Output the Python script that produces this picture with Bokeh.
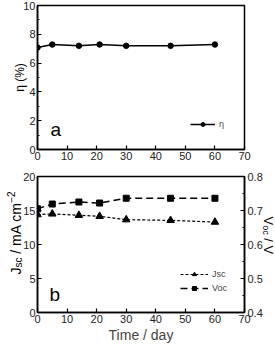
import math
from bokeh.plotting import figure
from bokeh.models import Range1d, LinearAxis, Label, Legend, LegendItem, FixedTicker
from bokeh.core.properties import value
from bokeh.layouts import column
from bokeh.embed import file_html
from bokeh.resources import INLINE

# ---- data ----
days = [0, 5, 14, 21, 30, 45, 60]
eta = [7.08, 7.29, 7.2, 7.29, 7.2, 7.2, 7.29]
jsc = [14.4, 14.5, 14.3, 14.15, 13.65, 13.55, 13.3]
voc = [0.705, 0.719, 0.725, 0.722, 0.736, 0.736, 0.736]

x_ticks = [0, 10, 20, 30, 40, 50, 60, 70]
eta_ticks = [0, 2, 4, 6, 8, 10]
eta_minor = [1, 3, 5, 7, 9]
jsc_ticks = [0, 5, 10, 15, 20]
voc_ticks = [0.4, 0.5, 0.6, 0.7, 0.8]
voc_minor = [0.45, 0.55, 0.65, 0.75]

FONT = "Liberation Sans"
W = 275


def style_axis(ax, ticks, minor=None):
    ax.ticker = FixedTicker(ticks=ticks, minor_ticks=minor or [])
    ax.axis_line_width = 1.5
    ax.axis_line_color = "black"
    ax.major_tick_in = 4
    ax.major_tick_out = 0
    ax.minor_tick_in = 2
    ax.minor_tick_out = 0
    ax.major_tick_line_width = 1.2
    ax.minor_tick_line_width = 1.2
    ax.major_label_text_font = FONT
    ax.major_label_text_font_size = "11px"
    ax.major_label_text_color = "#222222"
    ax.major_label_standoff = 2


def lab(p, text, x, y, size):
    p.add_layout(Label(x=x, y=y, text=text, text_font=FONT, text_font_size=f"{size}px",
                       text_align="left", text_baseline="alphabetic", text_color="black"))


def gtext(p, text, x, y, dx, size, angle, align="left"):
    r = p.text(x=[x], y=[y], text=[text], x_offset=dx, angle=angle,
               text_font=value(FONT), text_font_size=f"{size}px", text_color="black",
               text_align=align, text_baseline="alphabetic")
    r.level = "overlay"
    return r


def base_fig(h, top, bottom, yr):
    p = figure(width=W, height=h, x_range=Range1d(0, 70), y_range=yr,
               output_backend="svg", toolbar_location=None,
               min_border_left=37, min_border_right=31,
               min_border_top=top, min_border_bottom=bottom)
    p.xgrid.visible = False
    p.ygrid.visible = False
    p.outline_line_color = "black"
    p.outline_line_width = 1.5
    p.background_fill_color = "white"
    p.border_fill_color = "white"
    return p


# ---- top panel (a) ----
p1 = base_fig(166, 5, 17, Range1d(0, 10))
style_axis(p1.xaxis[0], x_ticks)
style_axis(p1.yaxis[0], eta_ticks, eta_minor)
l1 = p1.line(days, eta, line_color="black", line_width=1.5)
s1 = p1.scatter(days, eta, marker="circle", size=5.5, color="black")
leg1 = Legend(items=[LegendItem(label="η", renderers=[l1, s1])], location=(153, 20),
              padding=0, margin=0, border_line_color=None, background_fill_alpha=0,
              glyph_width=25, glyph_height=10, label_standoff=4,
              label_text_font=FONT, label_text_font_size="9px", spacing=4)
p1.add_layout(leg1)
lab(p1, "a", 4.4, 1.4, 19)
gtext(p1, "η (%)", 0, 5, -18, 12, math.pi / 2, align="center")

# ---- bottom panel (b) ----
p2 = base_fig(179, 10, 32, Range1d(0, 20))
p2.extra_y_ranges = {"v": Range1d(0.4, 0.8)}
style_axis(p2.xaxis[0], x_ticks)
style_axis(p2.yaxis[0], jsc_ticks)
rax = LinearAxis(y_range_name="v")
style_axis(rax, voc_ticks, voc_minor)
rax.major_label_standoff = 3
p2.add_layout(rax, "right")
p2.xaxis[0].axis_label = "Time / day"
p2.xaxis[0].axis_label_text_font = FONT
p2.xaxis[0].axis_label_text_font_size = "14px"
p2.xaxis[0].axis_label_text_font_style = "normal"
p2.xaxis[0].axis_label_standoff = 1

lj = p2.line(days, jsc, line_color="black", line_width=1.2, line_dash="3 2")
sj = p2.scatter(days, jsc, marker="triangle", size=7.5, color="black")
lv = p2.line(days, voc, line_color="black", line_width=1.5, line_dash="7 4", y_range_name="v")
sv = p2.scatter(days, voc, marker="square", size=6, color="black", y_range_name="v")
leg2 = Legend(items=[LegendItem(label="Jsc", renderers=[lj, sj]),
                     LegendItem(label="Voc", renderers=[lv, sv])],
              location=(143, 19), padding=0, margin=0, border_line_color=None,
              background_fill_alpha=0, glyph_width=28, glyph_height=10, label_standoff=4,
              label_text_font=FONT, label_text_font_size="9px", spacing=4)
p2.add_layout(leg2)
lab(p2, "b", 4.1, 2.6, 19)

# left axis label: J_sc / mA cm^-2 (rotated CCW)
u = 20.0 / 137.0  # data units per pixel on the left scale
y0 = 5.6
gtext(p2, "J", 0, y0, -22, 14, math.pi / 2)
gtext(p2, "sc", 0, y0 + 7 * u, -19, 10, math.pi / 2)
gtext(p2, "/ mA cm", 0, y0 + 20.9 * u, -22, 14, math.pi / 2)
gtext(p2, "−2", 0, y0 + 72.2 * u, -27, 10, math.pi / 2)

# right axis label: V_oc / V (rotated CW)
y1 = 14.1
gtext(p2, "V", 70, y1, 24, 13, -math.pi / 2)
gtext(p2, "oc", 70, y1 - 8.7 * u, 21, 9, -math.pi / 2)
gtext(p2, "/ V", 70, y1 - 21.8 * u, 24, 13, -math.pi / 2)

layout = column(p1, p2, spacing=0)
open("out.html", "w").write(file_html(layout, INLINE))
